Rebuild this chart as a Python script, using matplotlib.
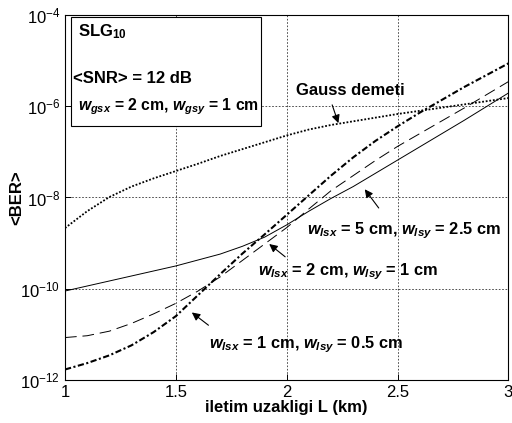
import matplotlib
matplotlib.use('Agg')
import matplotlib.pyplot as plt
from matplotlib.patches import Rectangle
from matplotlib.ticker import LogLocator, LogFormatterSciNotation, NullLocator

plt.rcParams['font.family'] = ['Liberation Sans', 'DejaVu Sans']
plt.rcParams['mathtext.fontset'] = 'custom'
plt.rcParams['mathtext.it'] = 'Liberation Sans:italic:bold'
plt.rcParams['mathtext.rm'] = 'Liberation Sans:bold'
plt.rcParams['mathtext.bf'] = 'Liberation Sans:bold'
plt.rcParams['mathtext.default'] = 'regular'

# iletim uzakligi L (km)
L = [1.0, 1.1, 1.2, 1.3, 1.4, 1.5, 1.6, 1.7, 1.8, 1.9, 2.0,
     2.1, 2.2, 2.3, 2.4, 2.5, 2.6, 2.7, 2.8, 2.9, 3.0]

# log10(<BER>)
log_gauss = [-8.67, -8.30, -7.99, -7.76, -7.58, -7.42, -7.26, -7.09, -6.94, -6.79, -6.64,
             -6.51, -6.41, -6.33, -6.25, -6.17, -6.10, -6.03, -5.96, -5.89, -5.82]
log_w5 = [-10.05, -9.94, -9.83, -9.72, -9.61, -9.50, -9.37, -9.24, -9.07, -8.87, -8.60,
          -8.30, -8.02, -7.76, -7.47, -7.18, -6.89, -6.60, -6.31, -6.01, -5.71]
log_w2 = [-11.07, -11.03, -10.93, -10.76, -10.55, -10.32, -10.05, -9.74, -9.38, -9.02, -8.66,
          -8.25, -7.85, -7.52, -7.19, -6.88, -6.60, -6.32, -6.04, -5.75, -5.46]
log_w1 = [-11.77, -11.63, -11.46, -11.24, -10.95, -10.60, -10.14, -9.68, -9.23, -8.81, -8.38,
          -7.95, -7.52, -7.12, -6.76, -6.44, -6.14, -5.86, -5.58, -5.32, -5.06]

ber_gauss = [10 ** v for v in log_gauss]
ber_w5 = [10 ** v for v in log_w5]
ber_w2 = [10 ** v for v in log_w2]
ber_w1 = [10 ** v for v in log_w1]

fig = plt.figure(figsize=(5.12, 4.23), dpi=100)
ax = fig.add_axes([0.127, 0.1017, 0.866, 0.8628])

ax.plot(L, ber_gauss, color='black', lw=1.3, linestyle=(0, (1, 1)))
ax.plot(L, ber_w5, color='black', lw=0.7, linestyle='-')
ax.plot(L, ber_w2, color='black', lw=0.7, linestyle=(0, (12, 6)))
ax.plot(L, ber_w1, color='black', lw=1.5, linestyle=(0, (3, 1.2, 1, 1.2)))

ax.set_yscale('log')
ax.set_xlim(1, 3)
ax.set_ylim(1e-12, 1e-4)
ax.set_xticks([1, 1.5, 2, 2.5, 3])
ax.set_xticklabels(['1', '1.5', '2', '2.5', '3'])
ax.yaxis.set_major_locator(LogLocator(base=100.0))
ax.yaxis.set_major_formatter(LogFormatterSciNotation(base=10))
ax.yaxis.set_minor_locator(NullLocator())
ax.tick_params(direction='in', labelsize=12, length=4, width=0.7)
ax.grid(True, color='black', linestyle=(0, (2, 2)), lw=0.6, alpha=0.8)
for s in ax.spines.values():
    s.set_linewidth(0.8)

ax.set_xlabel('iletim uzakligi L (km)', fontsize=12, fontweight='bold', labelpad=0)
ax.set_ylabel('<BER>', fontsize=12, fontweight='bold', labelpad=-3)

# info box
ax.add_patch(Rectangle((0.0135, 0.696), 0.4285, 0.2985, transform=ax.transAxes,
                       fc='white', ec='black', lw=0.8, zorder=3))
ax.text(0.029, 0.955, 'SLG$_{10}$', transform=ax.transAxes, ha='left', va='center',
        fontsize=12, fontweight='bold', zorder=4)
ax.text(0.018, 0.826, '<SNR> = 12 dB', transform=ax.transAxes, ha='left', va='center',
        fontsize=12, fontweight='bold', zorder=4)
ax.text(0.029, 0.748, r'$\mathit{w}_{\mathit{gsx}}$ = 2 cm, $\mathit{w}_{\mathit{gsy}}$ = 1 cm',
        transform=ax.transAxes, ha='left', va='center', fontsize=11.3, fontweight='bold', zorder=4)

arrow = dict(arrowstyle='-|>', color='black', lw=0.8, mutation_scale=12, shrinkA=0, shrinkB=0)

ax.text(2.04, 10 ** -5.66, 'Gauss demeti', fontsize=12, fontweight='bold', ha='left', va='center')
ax.annotate('', xy=(2.233, 10 ** -6.37), xytext=(2.205, 10 ** -5.97), arrowprops=arrow)

ax.text(2.09, 10 ** -8.72, r'$\mathit{w}_{\mathit{lsx}}$ = 5 cm, $\mathit{w}_{\mathit{lsy}}$ = 2.5 cm',
        fontsize=11.8, fontweight='bold', ha='left', va='center')
ax.annotate('', xy=(2.352, 10 ** -7.82), xytext=(2.415, 10 ** -8.23), arrowprops=arrow)

ax.text(1.87, 10 ** -9.62, r'$\mathit{w}_{\mathit{lsx}}$ = 2 cm, $\mathit{w}_{\mathit{lsy}}$ = 1 cm',
        fontsize=11.8, fontweight='bold', ha='left', va='center')
ax.annotate('', xy=(1.921, 10 ** -9.02), xytext=(1.993, 10 ** -9.30), arrowprops=arrow)

ax.text(1.65, 10 ** -11.22, r'$\mathit{w}_{\mathit{lsx}}$ = 1 cm, $\mathit{w}_{\mathit{lsy}}$ = 0.5 cm',
        fontsize=11.8, fontweight='bold', ha='left', va='center')
ax.annotate('', xy=(1.572, 10 ** -10.52), xytext=(1.647, 10 ** -10.80), arrowprops=arrow)

fig.savefig('out.png', dpi=100)
